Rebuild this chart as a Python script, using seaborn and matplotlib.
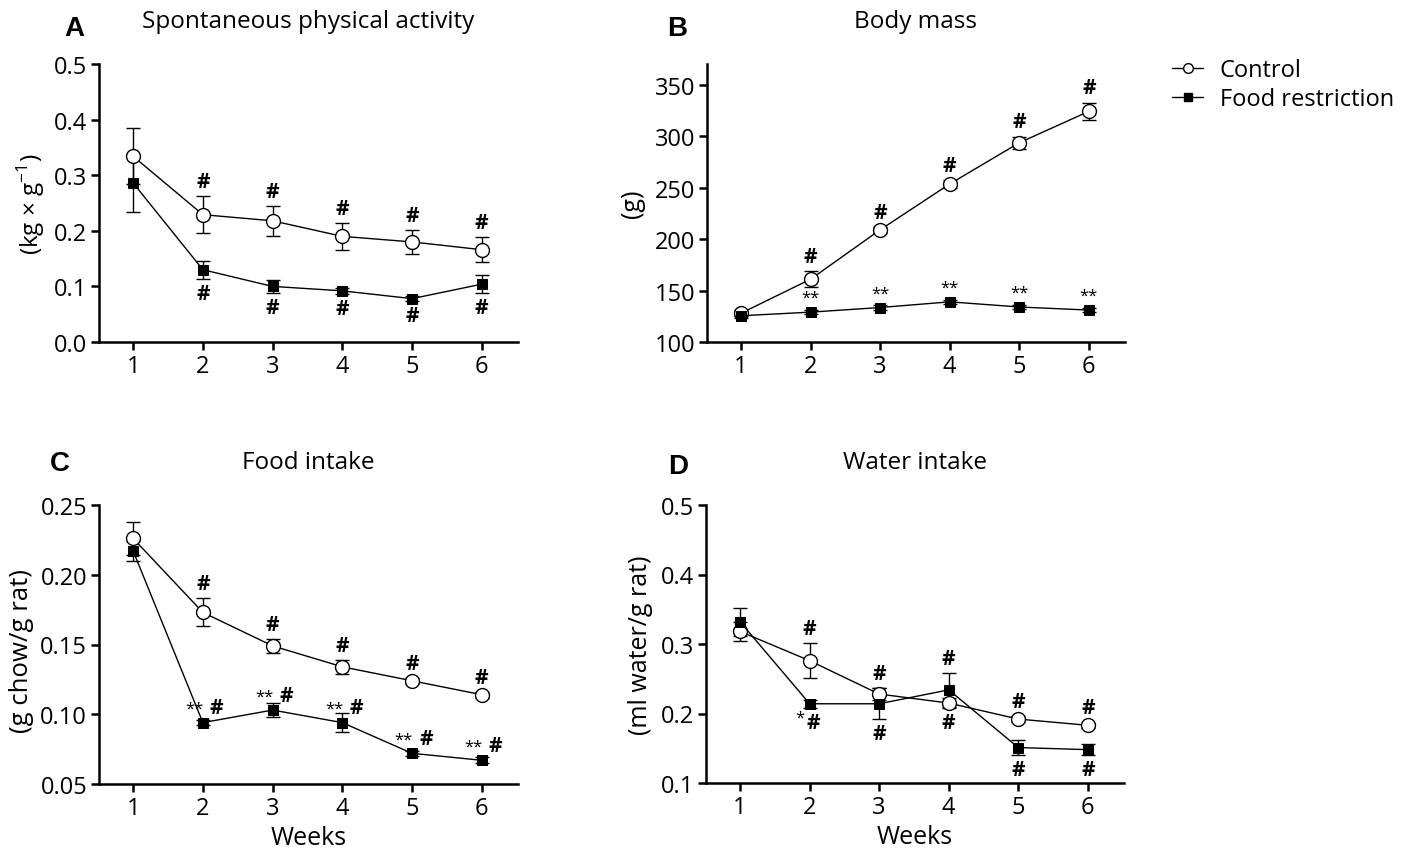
import matplotlib
matplotlib.use("Agg")
import matplotlib.pyplot as plt
from matplotlib.lines import Line2D
import seaborn as sns
import numpy as np
import pandas as pd

# ---------------- data ----------------
weeks = [1, 2, 3, 4, 5, 6]

A_ctrl = [0.334, 0.229, 0.218, 0.190, 0.180, 0.166]
A_ctrl_err = [0.050, 0.033, 0.027, 0.024, 0.021, 0.023]
A_fr = [0.286, 0.130, 0.100, 0.092, 0.078, 0.104]
A_fr_err = [0.053, 0.016, 0.012, 0.006, 0.004, 0.016]

B_ctrl = [128, 161, 209, 253.5, 293.5, 324]
B_ctrl_err = [3, 7.5, 3, 4, 6, 8.5]
B_fr = [125.5, 129, 133.5, 139, 134, 131]
B_fr_err = [2, 2, 2, 2, 2, 2]

C_ctrl = [0.226, 0.173, 0.149, 0.134, 0.124, 0.114]
C_ctrl_err = [0.012, 0.010, 0.005, 0.005, 0.002, 0.002]
C_fr = [0.217, 0.094, 0.103, 0.094, 0.072, 0.067]
C_fr_err = [0.007, 0.002, 0.005, 0.007, 0.002, 0.002]

D_ctrl = [0.318, 0.276, 0.228, 0.215, 0.192, 0.183]
D_ctrl_err = [0.014, 0.025, 0.009, 0.007, 0.004, 0.004]
D_fr = [0.332, 0.214, 0.214, 0.234, 0.151, 0.148]
D_fr_err = [0.020, 0.006, 0.022, 0.024, 0.011, 0.008]

series_names = ["Control", "Food restriction"]
panel_letters = ["A", "B", "C", "D"]
panel_titles = ["Spontaneous physical activity", "Body mass", "Food intake", "Water intake"]
y_labels = ["(kg \u00d7 g$^{-1}$)", "(g)", "(g chow/g rat)", "(ml water/g rat)"]
y_ticks = [[0.0, 0.1, 0.2, 0.3, 0.4, 0.5],
           [100, 150, 200, 250, 300, 350],
           [0.05, 0.10, 0.15, 0.20, 0.25],
           [0.1, 0.2, 0.3, 0.4, 0.5]]
y_fmt = ["{:.1f}", "{:.0f}", "{:.2f}", "{:.1f}"]
y_lims = [(0, 0.5), (100, 370), (0.05, 0.25), (0.1, 0.5)]
x_label = "Weeks"

# significance marks: (series, week, text, side)
A_marks = [("c", w, "#", "up") for w in range(2, 7)] + [("f", w, "#", "down") for w in range(2, 7)]
B_marks = [("c", w, "#", "up") for w in range(2, 7)] + [("f", w, "**", "up") for w in range(2, 7)]
C_marks = [("c", w, "#", "up") for w in range(2, 7)] + \
          [("f", w, "**", "upleft") for w in range(2, 7)] + [("f", w, "#", "upright") for w in range(2, 7)]
D_marks = [("c", 2, "#", "up"), ("f", 2, "*", "downleft"), ("f", 2, "#", "downright"),
           ("c", 3, "#", "up"), ("f", 3, "#", "down"),
           ("f", 4, "#", "up"), ("c", 4, "#", "down"),
           ("c", 5, "#", "up"), ("f", 5, "#", "down"),
           ("c", 6, "#", "up"), ("f", 6, "#", "down")]

panels = [
    (A_ctrl, A_ctrl_err, A_fr, A_fr_err, A_marks),
    (B_ctrl, B_ctrl_err, B_fr, B_fr_err, B_marks),
    (C_ctrl, C_ctrl_err, C_fr, C_fr_err, C_marks),
    (D_ctrl, D_ctrl_err, D_fr, D_fr_err, D_marks),
]

# ---------------- style ----------------
sns.set_theme(style="ticks")
plt.rcParams["font.family"] = ["Open Sans", "DejaVu Sans"]
plt.rcParams["mathtext.fontset"] = "custom"
plt.rcParams["mathtext.rm"] = "Open Sans"
plt.rcParams["text.color"] = "black"
plt.rcParams["axes.labelcolor"] = "black"
plt.rcParams["axes.edgecolor"] = "black"
plt.rcParams["xtick.color"] = "black"
plt.rcParams["ytick.color"] = "black"
plt.rcParams["axes.linewidth"] = 1.8
plt.rcParams["xtick.major.width"] = 1.8
plt.rcParams["ytick.major.width"] = 1.8
plt.rcParams["xtick.major.size"] = 5.5
plt.rcParams["ytick.major.size"] = 5.5

fig = plt.figure(figsize=(14.08, 8.54), dpi=100)
W, H = 1408, 854
rects = [(99, 65, 518, 343), (707, 65, 1125, 343), (99, 506, 518, 785), (706, 506, 1124, 784)]
ylabel_sizes = [17.5, 18, 18.5, 18]
ylabel_x = [-0.124, -0.148, -0.155, -0.127]
ylabel_y = [0.5, 0.5, 0.48, 0.5]
letter_xy = [(-0.058, 1.13), (-0.072, 1.13), (-0.093, 1.15), (-0.067, 1.14)]

for i, (rect, (c, ce, f, fe, marks)) in enumerate(zip(rects, panels)):
    l, t, r, b = rect
    ax = fig.add_axes([l / W, 1 - b / H, (r - l) / W, (b - t) / H])
    df = pd.DataFrame({"week": weeks * 2,
                       "value": c + f,
                       "group": [series_names[0]] * 6 + [series_names[1]] * 6})
    ax.errorbar(weeks, c, yerr=ce, fmt="none", ecolor="black", elinewidth=1.0, capsize=5, capthick=1.0, zorder=2)
    ax.errorbar(weeks, f, yerr=fe, fmt="none", ecolor="black", elinewidth=1.0, capsize=5, capthick=1.0, zorder=2)
    sns.lineplot(data=df[df.group == series_names[0]], x="week", y="value", ax=ax, color="black",
                 lw=1.0, marker="o", markersize=10, markerfacecolor="white", markeredgecolor="black",
                 markeredgewidth=1.0, zorder=3, legend=False)
    sns.lineplot(data=df[df.group == series_names[1]], x="week", y="value", ax=ax, color="black",
                 lw=1.0, marker="s", markersize=7.5, markerfacecolor="black", markeredgecolor="black",
                 zorder=4, legend=False)
    sns.despine(ax=ax)
    ax.set_xlim(0.51, 6.52)
    ax.set_ylim(*y_lims[i])
    ax.set_xticks(weeks)
    ax.set_xticklabels([str(w) for w in weeks], fontsize=17)
    ax.set_yticks(y_ticks[i])
    ax.set_yticklabels([y_fmt[i].format(v) for v in y_ticks[i]], fontsize=17)
    ax.tick_params(axis="both", pad=3, colors="black")
    ax.set_ylabel(y_labels[i], fontsize=ylabel_sizes[i])
    ax.yaxis.set_label_coords(ylabel_x[i], ylabel_y[i])
    if i >= 2:
        ax.set_xlabel(x_label, fontsize=18, labelpad=4)
    else:
        ax.set_xlabel("")
    ax.text(0.5, 1.155, panel_titles[i], transform=ax.transAxes, fontsize=17.5,
            ha="center", va="center")
    ax.text(letter_xy[i][0], letter_xy[i][1], panel_letters[i], transform=ax.transAxes, fontsize=20,
            fontweight="bold", ha="center", va="center", family=["Liberation Sans", "DejaVu Sans"])

    for s, w, txt, side in marks:
        vals, errs = (c, ce) if s == "c" else (f, fe)
        j = weeks.index(w)
        fs = 15 if txt == "#" else 12
        fw = "bold" if txt == "#" else "normal"
        if side == "up":
            y, off, va = vals[j] + errs[j], (0, 3), "bottom"
        elif side == "down":
            y, off, va = vals[j] - errs[j], (0, -3), "top"
        elif side == "upleft":
            y, off, va = vals[j], (-6, 4), "bottom"
        elif side == "upright":
            y, off, va = vals[j], (10, 3), "bottom"
        elif side == "downleft":
            y, off, va = vals[j] - errs[j], (-7, -1), "top"
        else:  # downright
            y, off, va = vals[j] - errs[j], (3, -3), "top"
        ax.annotate(txt, (w, y), xytext=off, textcoords="offset points", ha="center", va=va,
                    fontsize=fs, fontweight=fw)

handles = [Line2D([], [], color="black", lw=1.0, marker="o", markersize=7, markerfacecolor="white",
                  markeredgecolor="black"),
           Line2D([], [], color="black", lw=1.0, marker="s", markersize=5.5, markerfacecolor="black")]
fig.legend(handles, series_names, loc="upper left", bbox_to_anchor=(1163 / W, 1 - 50 / H),
           frameon=False, fontsize=17, handlelength=1.3, handletextpad=0.7, labelspacing=0.2,
           borderaxespad=0, borderpad=0.4)

fig.savefig("out.png", dpi=100)
